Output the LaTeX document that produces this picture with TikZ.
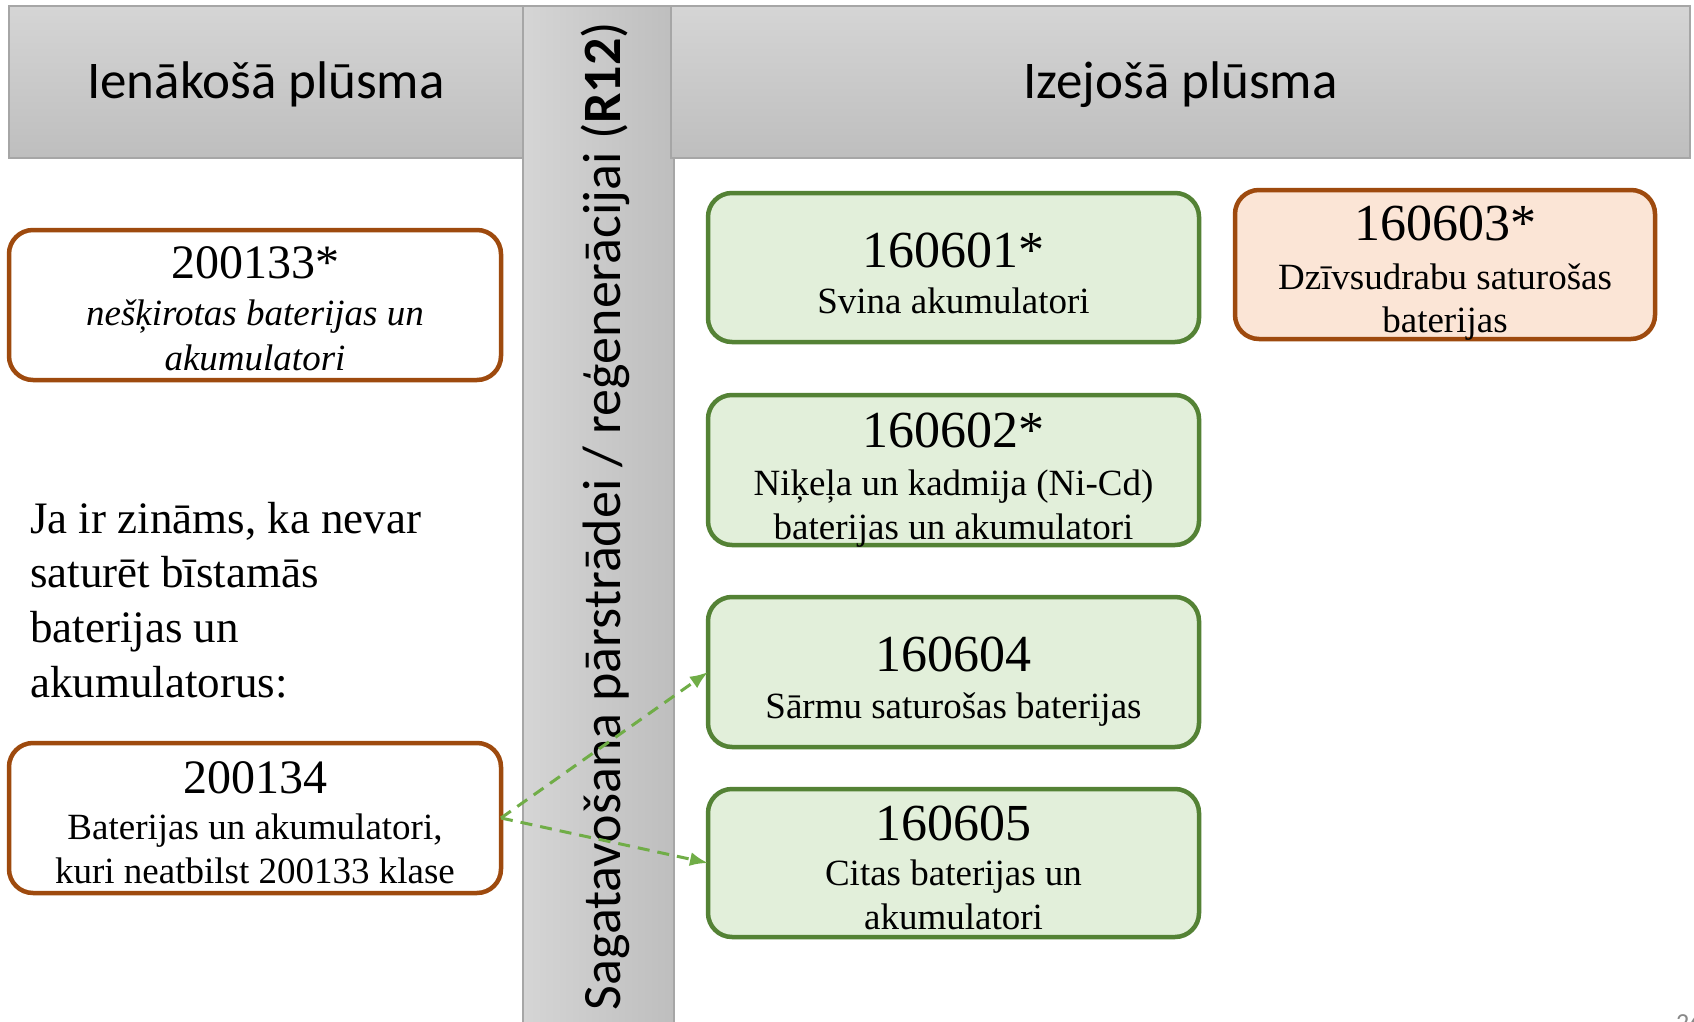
\documentclass[tikz,border=0pt]{standalone}
\usepackage{fontspec}
\setmainfont{Liberation Serif}
\newfontfamily\carl{Carlito}
\usetikzlibrary{arrows.meta}
\definecolor{brownb}{HTML}{9E4A0E}
\definecolor{greenb}{HTML}{548235}
\definecolor{greenf}{HTML}{E2EFDA}
\definecolor{orangef}{HTML}{FBE5D6}
\definecolor{arrowg}{HTML}{70AD47}
\definecolor{hdtop}{HTML}{D5D5D5}
\definecolor{hdbot}{HTML}{BEBEBE}
\definecolor{hdline}{HTML}{A6A6A6}
\definecolor{pgnum}{HTML}{898989}
\begin{document}
\begin{tikzpicture}[x=1pt,y=-1pt,
  wbox/.style={draw=brownb, fill=white, line width=4.5pt, rounded corners=24pt, inner sep=0pt, outer sep=0pt},
  gbox/.style={draw=greenb, fill=greenf, line width=4.5pt, rounded corners=24pt, inner sep=0pt, outer sep=0pt},
  obox/.style={draw=brownb, fill=orangef, line width=4.5pt, rounded corners=24pt, inner sep=0pt, outer sep=0pt},
  hdr/.style={draw=hdline, line width=1.2pt, top color=hdtop, bottom color=hdbot, inner sep=0pt, outer sep=0pt},
  vbar/.style={draw=hdline, line width=1.2pt, left color=hdtop, right color=hdbot, inner sep=0pt, outer sep=0pt},
  hdtext/.style={font=\carl\fontsize{53}{60}\selectfont, anchor=base, inner sep=0pt},
  vtext/.style={font=\carl\fontsize{54}{60}\selectfont, anchor=base, inner sep=0pt, rotate=90},
  codeL/.style={font=\fontsize{48}{54}\selectfont, anchor=base, inner sep=0pt},
  codeR/.style={font=\fontsize{52}{58}\selectfont, anchor=base, inner sep=0pt},
  subt/.style={font=\fontsize{37}{44}\selectfont, anchor=base, inner sep=0pt},
  subi/.style={font=\fontsize{37}{44}\selectfont\itshape, anchor=base, inner sep=0pt},
  para/.style={font=\fontsize{45}{54}\selectfont, anchor=base west, inner sep=0pt},
  flow/.style={draw=arrowg, line width=3pt, dash pattern=on 12pt off 8pt, -{Latex[length=18pt,width=14pt]}}
]
\useasboundingbox (0,0) rectangle (1694,1022);
\fill[white] (0,0) rectangle (1694,1022);

% headers and bar
\node[hdr, minimum width=514pt, minimum height=152pt] (hdL) at (266,82) {};
\node[vbar, minimum width=151pt, minimum height=1030pt] (bar) at (598.5,521) {};
\node[hdr, minimum width=1019pt, minimum height=152pt] (hdR) at (1180.5,82) {};
\node[hdtext] (tL) at (266,99) {Ienākošā plūsma};
\node[hdtext] (tR) at (1180.5,99) {Izejošā plūsma};
\node[vtext] (tV) at (620,516) {Sagatavošana pārstrādei / reģenerācijai (\textbf{R12})};

% left side
\node[wbox, minimum width=492pt, minimum height=150pt] (b200133) at (255,305) {};
\node[codeL] (c200133) at (255,278) {200133*};
\node[subi] (s200133a) at (255,325) {nešķirotas baterijas un};
\node[subi] (s200133b) at (255,370) {akumulatori};

\node[para] (p1) at (30,533) {Ja ir zināms, ka nevar};
\node[para] (p2) at (30,587) {saturēt bīstamās};
\node[para] (p3) at (30,642) {baterijas un};
\node[para] (p4) at (30,697) {akumulatorus:};

\node[wbox, minimum width=492pt, minimum height=150pt] (b200134) at (255,818) {};
\node[codeL] (c200134) at (255,793) {200134};
\node[subt] (s200134a) at (255,839) {Baterijas un akumulatori,};
\node[subt] (s200134b) at (255,883) {kuri neatbilst 200133 klase};

% right side
\node[gbox, minimum width=491pt, minimum height=149pt] (b160601) at (953.5,267.5) {};
\node[codeR] (c160601) at (953.5,267) {160601*};
\node[subt] (s160601) at (953.5,313) {Svina akumulatori};

\node[gbox, minimum width=491pt, minimum height=150pt] (b160602) at (953.5,470) {};
\node[codeR] (c160602) at (953.5,447) {160602*};
\node[subt] (s160602a) at (953.5,495) {Niķeļa un kadmija (Ni-Cd)};
\node[subt] (s160602b) at (953.5,539) {baterijas un akumulatori};

\node[gbox, minimum width=491pt, minimum height=150pt] (b160604) at (953.5,672) {};
\node[codeR] (c160604) at (953.5,671) {160604};
\node[subt] (s160604) at (953.5,718) {Sārmu saturošas baterijas};

\node[gbox, minimum width=491pt, minimum height=148pt] (b160605) at (953.5,863) {};
\node[codeR] (c160605) at (953.5,840) {160605};
\node[subt] (s160605a) at (953.5,885) {Citas baterijas un};
\node[subt] (s160605b) at (953.5,929) {akumulatori};

\node[obox, minimum width=420pt, minimum height=149pt] (b160603) at (1445,264.5) {};
\node[codeR] (c160603) at (1445,240) {160603*};
\node[subt] (s160603a) at (1445,289) {Dzīvsudrabu saturošas};
\node[subt] (s160603b) at (1445,332) {baterijas};

% connectors
\draw[flow] (b200134.east) -- (b160604.west);
\draw[flow] (b200134.east) -- (b160605.west);

% page number (cut off at the edge, as in the reference)
\node[font=\carl\fontsize{26}{30}\selectfont, text=pgnum, anchor=north west, inner sep=0pt] (pg) at (1676,1014) {26};
\end{tikzpicture}
\end{document}
